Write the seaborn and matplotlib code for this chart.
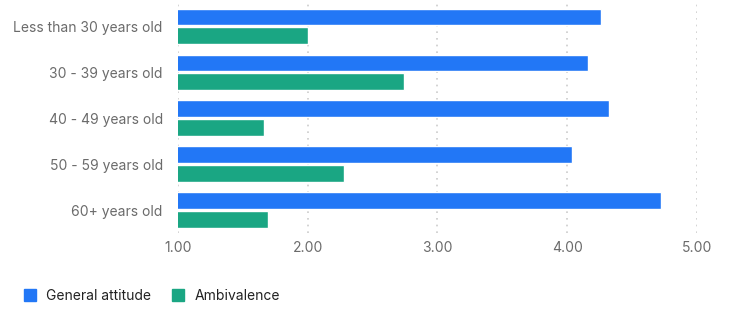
import pandas as pd
import matplotlib.pyplot as plt
import seaborn as sns
from matplotlib.lines import Line2D

groups = ["Less than 30 years old", "30 - 39 years old", "40 - 49 years old",
          "50 - 59 years old", "60+ years old"]
general_attitude = [4.26, 4.16, 4.32, 4.04, 4.72]
ambivalence = [2.00, 2.74, 1.66, 2.28, 1.69]
series = ["General attitude", "Ambivalence"]
colors = ["#2277F6", "#1AA683"]

df = pd.DataFrame({
    "group": groups * 2,
    "score": general_attitude + ambivalence,
    "series": [series[0]] * len(groups) + [series[1]] * len(groups),
})

sns.set_style("white")
plt.rcParams['font.family'] = ['Inter', 'DejaVu Sans']

fig = plt.figure(figsize=(7.29, 3.09), dpi=100)
ax = fig.add_axes([0.2442, 0.246, 0.956 - 0.2442, 0.989 - 0.246])

sns.barplot(data=df, y="group", x="score", hue="series", order=groups,
            hue_order=series, palette=colors, saturation=1, orient="h",
            width=0.82, gap=0.12, legend=False, ax=ax)

ax.set_xlim(1, 5)
ax.set_ylim(4.5, -0.5)
ax.set_xticks([1, 2, 3, 4, 5])
ax.set_xticklabels(["1.00", "2.00", "3.00", "4.00", "5.00"])
ax.set_xlabel("")
ax.set_ylabel("")
ax.tick_params(axis="both", length=0, labelsize=10, labelcolor="#6b6b6b")
ax.tick_params(axis="x", pad=6)
ax.tick_params(axis="y", pad=11)
ax.grid(axis="x", linestyle=(0, (1, 3)), color="#cccccc", linewidth=1.2)
ax.grid(axis="y", visible=False)
ax.set_axisbelow(True)
for s in ax.spines.values():
    s.set_visible(False)

handles = [Line2D([], [], marker="s", linestyle="", markersize=9,
                  markerfacecolor=c, markeredgecolor=c) for c in colors]
fig.legend(handles, series, loc="lower left", bbox_to_anchor=(0.016, -0.02),
           ncol=2, frameon=False, fontsize=10, handlelength=0.8,
           handletextpad=0.8, columnspacing=1.5, labelcolor="#222222")

fig.savefig("out.png", dpi=100)
